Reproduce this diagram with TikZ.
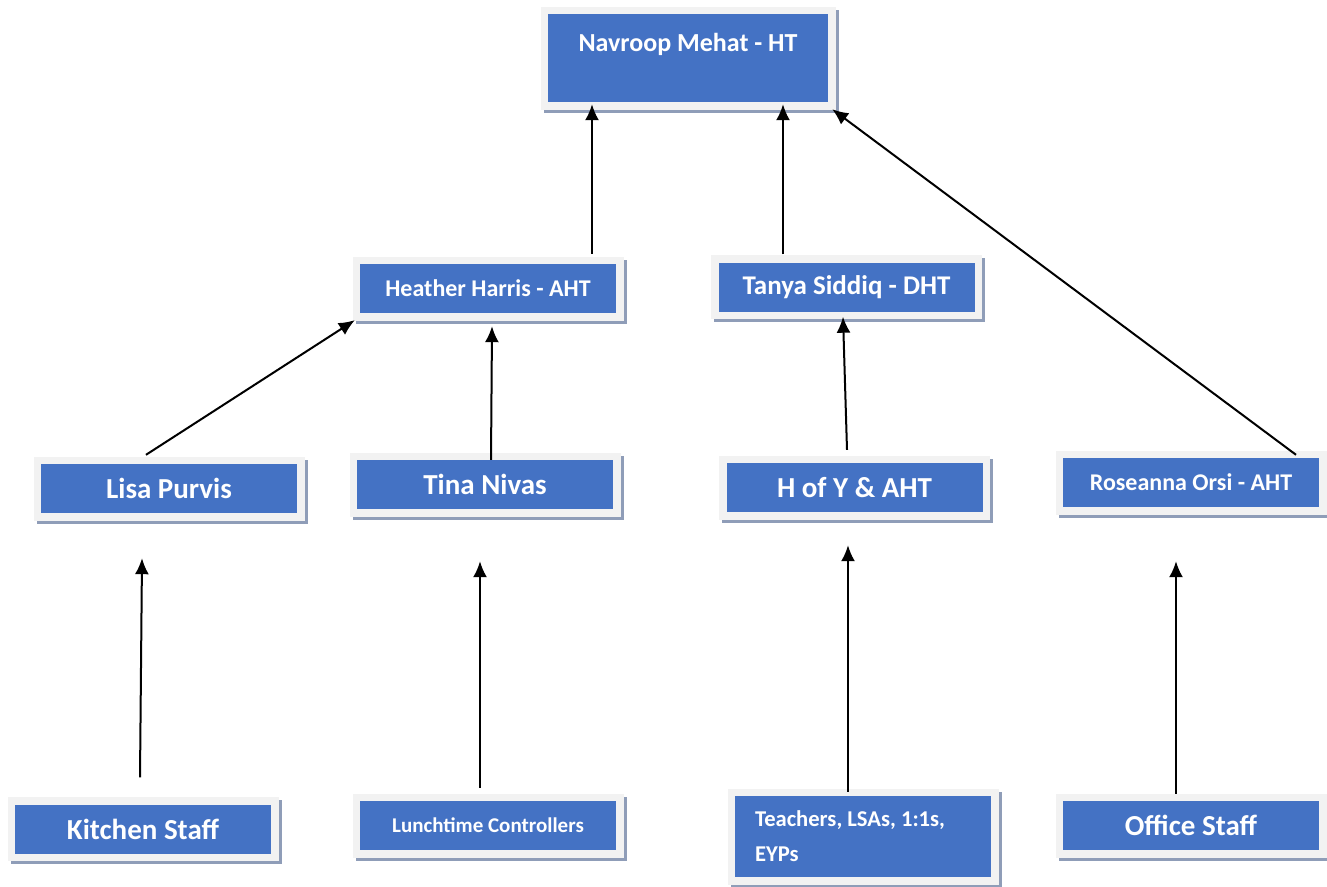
\documentclass[tikz,border=0pt]{standalone}
\usepackage{fontspec}
\setmainfont{Carlito}
\usetikzlibrary{arrows.meta}

\definecolor{boxblue}{HTML}{4472C4}
\definecolor{framegray}{HTML}{F2F2F2}
\definecolor{shadowblue}{HTML}{8F9DB8}

\tikzset{
  orgbox/.style={fill=boxblue, text=white, inner sep=0pt,
    minimum width=256pt, minimum height=49pt,
    preaction={draw=shadowblue, line width=15pt, line join=miter,
      transform canvas={shift={(3pt,-3pt)}}},
    preaction={draw=framegray, line width=15pt, line join=miter}},
  bigtxt/.style={font=\bfseries\fontsize{29}{35}\selectfont},
  midtxt/.style={font=\bfseries\fontsize{24}{30}\selectfont},
  smalltxt/.style={font=\bfseries\fontsize{21}{26}\selectfont},
  uparrow/.style={line width=2pt, -{Latex[length=16pt,width=14pt]}}
}

\begin{document}
\begin{tikzpicture}[x=1pt, y=1pt]
\useasboundingbox (0,0) rectangle (1327,-886);

%top level
\node[orgbox, font=\bfseries\fontsize{26}{32}\selectfont, minimum width=280pt, minimum height=88pt,
  align=center] (navroop) at (688,-58) {Navroop Mehat - HT\\\mbox{}};

%second level
\node[orgbox, midtxt] (heather) at (488,-288.5) {Heather Harris - AHT};
\node[orgbox, font=\bfseries\fontsize{27}{32}\selectfont] (tanya) at (846.5,-287) {Tanya Siddiq - DHT};

%third level
\node[orgbox, bigtxt] (lisa) at (169,-488.5) {Lisa Purvis};
\node[orgbox, bigtxt] (tina) at (485,-484.5) {Tina Nivas};
\node[orgbox, bigtxt] (hofy) at (854.5,-487.5) {H of Y \& AHT};
\node[orgbox, midtxt] (roseanna) at (1191,-482.5) {Roseanna Orsi - AHT};

%staff
\node[orgbox, bigtxt] (kitchen) at (143,-829) {Kitchen Staff};
\node[orgbox, smalltxt] (lunch) at (488,-825.5) {Lunchtime Controllers};
\node[orgbox, font=\bfseries\fontsize{22.6}{35}\selectfont, minimum height=81pt,
  text width=216pt, align=flush left] (teachers) at (863,-836.5) {Teachers, LSAs, 1:1s,\\EYPs};
\node[orgbox, bigtxt] (office) at (1191,-825.5) {Office Staff};

%reporting lines
\draw[uparrow] ([xshift=104pt,yshift=10pt]heather.north) -- ([xshift=-96pt,yshift=-2pt]navroop.south);
\draw[uparrow] ([xshift=-63.5pt,yshift=8pt]tanya.north) -- ([xshift=95pt,yshift=-2pt]navroop.south);
\draw[uparrow] ([xshift=105pt,yshift=3pt]roseanna.north) -- ([xshift=4pt,yshift=-7pt]navroop.south east);
\draw[uparrow] ([xshift=-23pt,yshift=9pt]lisa.north) -- ([xshift=-5pt,yshift=-7pt]heather.south west);
\draw[uparrow] ([xshift=6pt]tina.north) -- ([xshift=4pt,yshift=-13pt]heather.south);
\draw[uparrow] ([xshift=-7.5pt,yshift=13pt]hofy.north) -- ([xshift=-3.5pt,yshift=-5pt]tanya.south);
\draw[uparrow] ([xshift=-3pt,yshift=27pt]kitchen.north) -- ([xshift=-27pt,yshift=-45pt]lisa.south);
\draw[uparrow] ([xshift=-8pt,yshift=13pt]lunch.north) -- ([xshift=-5pt,yshift=-52pt]tina.south);
\draw[uparrow] ([xshift=-15pt,yshift=4pt]teachers.north) -- ([xshift=-6.5pt,yshift=-33pt]hofy.south);
\draw[uparrow] ([xshift=-15pt,yshift=7pt]office.north) -- ([xshift=-15pt,yshift=-54pt]roseanna.south);

\end{tikzpicture}
\end{document}
